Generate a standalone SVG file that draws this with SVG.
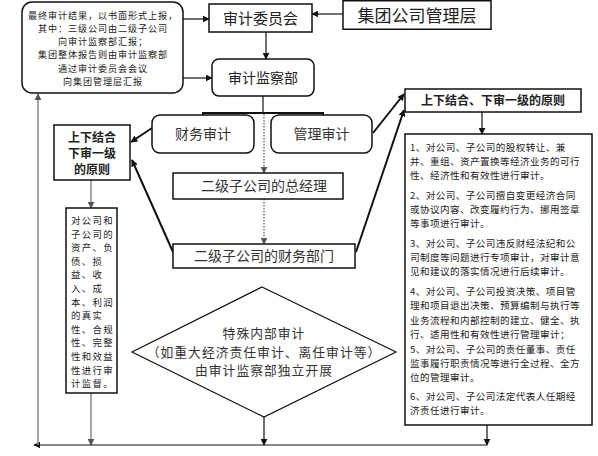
<svg xmlns="http://www.w3.org/2000/svg" width="598" height="456" viewBox="0 0 598 456">
<defs>
<marker id="ab" viewBox="0 0 10 10" refX="9" refY="5" markerWidth="7" markerHeight="7" markerUnits="userSpaceOnUse" orient="auto"><path d="M0,0 L10,5 L0,10 z" fill="#111"/></marker>
<marker id="ag" viewBox="0 0 10 10" refX="9" refY="5" markerWidth="7" markerHeight="7" markerUnits="userSpaceOnUse" orient="auto"><path d="M0,0 L10,5 L0,10 z" fill="#555"/></marker>
<style>
text{font-family:"Noto Sans CJK SC","Noto Sans",sans-serif;fill:#222}
.b{fill:#fff;stroke:#111;stroke-width:1.5}
.c{text-anchor:middle}
.s10{font-size:9.1px;letter-spacing:0.9px}
.r{font-size:9.6px;letter-spacing:0.4px}
.s11{font-size:9.4px;letter-spacing:1.4px}
.s12{font-size:12px;font-weight:bold}
.s14{font-size:14px;fill:#333}
.dm{font-size:12.8px;letter-spacing:1px;fill:#333}
.l{stroke:#111;stroke-width:1.2;fill:none}
.lt{stroke:#111;stroke-width:2;fill:none}
.g{stroke:#888;stroke-width:1.5;fill:none}
.d{stroke:#555;stroke-width:1.2;stroke-dasharray:1.5 1.5;fill:none}
</style>
</defs>
<rect width="598" height="456" fill="#fff"/>
<g id="connectors">
<line class="l" x1="183" y1="19" x2="209" y2="19" marker-end="url(#ab)"/>
<line class="l" x1="183" y1="78" x2="212" y2="78" marker-end="url(#ab)"/>
<line class="l" x1="343" y1="14" x2="312" y2="14" marker-end="url(#ab)"/>
<line class="l" x1="266" y1="32" x2="266" y2="59" marker-end="url(#ab)"/>
<line class="l" x1="263" y1="96" x2="263" y2="113"/>
<polyline class="lt" points="203,115 203,113 323,113 323,115"/>
<line class="d" x1="264" y1="114" x2="264" y2="173" marker-end="url(#ag)"/>
<line class="d" x1="264" y1="199" x2="264" y2="244" marker-end="url(#ag)"/>
<line class="lt" x1="152" y1="128" x2="131" y2="142" marker-end="url(#ab)"/>
<line class="lt" x1="173" y1="252" x2="132" y2="160" marker-end="url(#ab)"/>
<line class="lt" x1="373" y1="133" x2="404" y2="94" marker-end="url(#ab)"/>
<line class="lt" x1="356" y1="252" x2="404" y2="110" marker-end="url(#ab)"/>
<line class="l" x1="482" y1="112" x2="482" y2="134" marker-end="url(#ab)"/>
<line class="g" x1="91" y1="180" x2="91" y2="208" marker-end="url(#ag)"/>
<line class="g" x1="91" y1="393" x2="91" y2="445" marker-end="url(#ag)"/>
<line class="l" x1="264" y1="417" x2="264" y2="445" marker-end="url(#ab)"/>
<line class="l" x1="487" y1="425" x2="487" y2="445" marker-end="url(#ab)"/>
<line class="l" x1="487" y1="445" x2="34" y2="445" marker-end="url(#ab)"/>
<line class="g" x1="38" y1="445" x2="38" y2="94" marker-end="url(#ag)"/>
</g>
<g id="report">
<rect class="b" x="22" y="2" width="161" height="91" rx="10"/>
<text class="c s10" x="103" y="18.5">最终审计结果，以书面形式上报，</text>
<text class="c s10" x="103" y="31.8">其中：三级公司由二级子公司</text>
<text class="c s10" x="103" y="45.1">向审计监察部汇报；</text>
<text class="c s10" x="103" y="58.4">集团整体报告则由审计监察部</text>
<text class="c s10" x="103" y="71.7">通过审计委员会会议</text>
<text class="c s10" x="103" y="85">向集团管理层汇报</text>
</g>
<g id="committee">
<rect class="b" x="209" y="4" width="103" height="28"/>
<text class="c" x="260.5" y="24" style="font-size:15px">审计委员会</text>
</g>
<g id="group-mgmt">
<rect class="b" x="343" y="0.75" width="148" height="28.5"/>
<text class="c" x="417" y="22" style="font-size:17px">集团公司管理层</text>
</g>
<g id="audit-dept">
<rect class="b" x="212" y="59" width="102" height="37" rx="7"/>
<text class="c s14" x="263" y="82.5" style="fill:#222">审计监察部</text>
</g>
<g id="fin-audit">
<rect class="b" x="152" y="115" width="102" height="38" rx="8"/>
<text class="c s14" x="203" y="139">财务审计</text>
</g>
<g id="mgmt-audit">
<rect class="b" x="271" y="115" width="101" height="38" rx="8"/>
<text class="c s14" x="321.5" y="139">管理审计</text>
</g>
<g id="gm">
<rect class="b" x="173" y="173" width="170" height="26"/>
<text class="c s14" x="264" y="191">二级子公司的总经理</text>
</g>
<g id="fin-dept">
<rect class="b" x="173" y="244" width="182" height="24"/>
<text class="c s14" x="264" y="261">二级子公司的财务部门</text>
</g>
<g id="principle-left">
<rect class="b" x="54" y="125" width="76" height="55"/>
<text class="c s12" x="92" y="142">上下结合</text>
<text class="c s12" x="92" y="158">下审一级</text>
<text class="c s12" x="92" y="174">的原则</text>
</g>
<g id="fin-scope">
<rect class="b" x="66" y="208" width="51" height="185"/>
<text class="s11" x="71" y="224">对公司和</text>
<text class="s11" x="71" y="237.6">子公司的</text>
<text class="s11" x="71" y="251.2">资产、负</text>
<text class="s11" x="71" y="264.8">债、损</text>
<text class="s11" x="71" y="278.4">益、收</text>
<text class="s11" x="71" y="292">入、成</text>
<text class="s11" x="71" y="305.6">本、利润</text>
<text class="s11" x="71" y="319.2">的真实</text>
<text class="s11" x="71" y="332.8">性、合规</text>
<text class="s11" x="71" y="346.4">性、完整</text>
<text class="s11" x="71" y="360">性和效益</text>
<text class="s11" x="71" y="373.6">性进行审</text>
<text class="s11" x="71" y="387.2">计监督。</text>
</g>
<g id="principle-right">
<rect class="b" x="405" y="89" width="176" height="23"/>
<text class="c s12" x="493" y="105">上下结合、下审一级的原则</text>
</g>
<g id="mgmt-scope">
<rect class="b" x="405" y="134" width="187" height="291"/>
<text class="r" x="410" y="151">1、对公司、子公司的股权转让、兼</text>
<text class="r" x="410" y="165">并、重组、资产置换等经济业务的可行</text>
<text class="r" x="410" y="179">性、经济性和有效性进行审计。</text>
<text class="r" x="410" y="199"> 2、对公司、子公司擅自变更经济合同</text>
<text class="r" x="410" y="213">或协议内容、改变履约行为、挪用签章</text>
<text class="r" x="410" y="227">等事项进行审计。</text>
<text class="r" x="410" y="247">3、对公司、子公司违反财经法纪和公</text>
<text class="r" x="410" y="261">司制度等问题进行专项审计，对审计意</text>
<text class="r" x="410" y="275">见和建议的落实情况进行后续审计。</text>
<text class="r" x="410" y="295">4、对公司、子公司投资决策、项目管</text>
<text class="r" x="410" y="309.3">理和项目退出决策、预算编制与执行等</text>
<text class="r" x="410" y="323.6">业务流程和内部控制的建立、健全、执</text>
<text class="r" x="410" y="338">行、适用性和有效性进行管理审计；</text>
<text class="r" x="410" y="353">5、对公司、子公司的责任董事、责任</text>
<text class="r" x="410" y="367">监事履行职责情况等进行全过程、全方</text>
<text class="r" x="410" y="381">位的管理审计。</text>
<text class="r" x="410" y="400">6、对公司、子公司法定代表人任期经</text>
<text class="r" x="410" y="414">济责任进行审计。</text>
</g>
<g id="special">
<polygon class="b" points="262,287 396,352 264,417 132,352" style="stroke-width:1.2"/>
<text class="c dm" x="264" y="338">特殊内部审计</text>
<text class="c dm" x="264" y="356.5">（如重大经济责任审计、离任审计等）</text>
<text class="c dm" x="264" y="375">由审计监察部独立开展</text>
</g>
</svg>
